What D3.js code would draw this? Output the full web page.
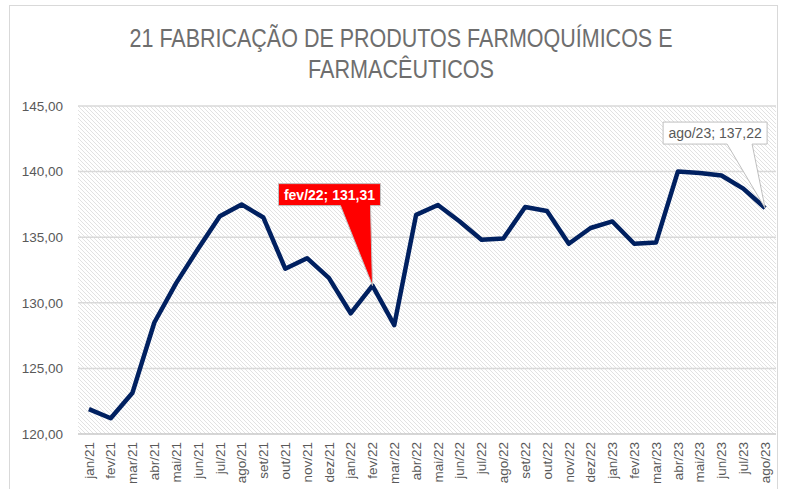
<!DOCTYPE html>
<html>
<head>
<meta charset="utf-8">
<script src="https://cdn.jsdelivr.net/npm/d3@7"></script>
<style>
  body { margin: 0; background: #fff; }
  text { font-family: "Liberation Sans", Arial, sans-serif; }
</style>
</head>
<body>
<div id="chart"></div>
<script>
// data
var months = ['jan/21', 'fev/21', 'mar/21', 'abr/21', 'mai/21', 'jun/21', 'jul/21', 'ago/21', 'set/21', 'out/21', 'nov/21', 'dez/21',
  'jan/22', 'fev/22', 'mar/22', 'abr/22', 'mai/22', 'jun/22', 'jul/22', 'ago/22', 'set/22', 'out/22', 'nov/22', 'dez/22',
  'jan/23', 'fev/23', 'mar/23', 'abr/23', 'mai/23', 'jun/23', 'jul/23', 'ago/23'];
var values = [121.9, 121.2, 123.15, 128.5, 131.5, 134.1, 136.6, 137.5, 136.5, 132.6, 133.4, 131.9,
  129.2, 131.31, 128.3, 136.7, 137.45, 136.2, 134.8, 134.9, 137.3, 137.0, 134.5, 135.7,
  136.2, 134.5, 134.6, 140.0, 139.9, 139.7, 138.7, 137.22];
var yTicks = [120, 125, 130, 135, 140, 145];
var titleLines = ['21 FABRICAÇÃO DE PRODUTOS FARMOQUÍMICOS E', 'FARMACÊUTICOS'];
var calloutMonths = ['fev/22', 'ago/23'];

var width = 787;
var height = 489;
var plot = { left: 78, right: 776, top: 106, bottom: 434 };

var fmt = function(v) { return d3.format('.2f')(v).replace('.', ','); };

var svg = d3.select('#chart')
  .append('svg')
  .attr('width', width)
  .attr('height', height);

// hatch pattern for the plot area
var pat = svg.append('defs').append('pattern')
  .attr('id', 'hatch')
  .attr('patternUnits', 'userSpaceOnUse')
  .attr('width', 4)
  .attr('height', 4);
pat.append('rect').attr('width', 4).attr('height', 4).attr('fill', '#fff');
pat.append('path')
  .attr('d', 'M-1,-1 L5,5 M-1,3 L1,5 M3,-1 L5,1')
  .attr('stroke', '#e2e2e2')
  .attr('stroke-width', 1);

// chart border
svg.append('rect')
  .attr('x', 9.5).attr('y', 5.5)
  .attr('width', 768).attr('height', 500)
  .attr('fill', '#fff')
  .attr('stroke', '#d9d9d9');

var x = d3.scaleBand()
  .domain(months)
  .range([plot.left, plot.right]);

var y = d3.scaleLinear()
  .domain([120, 145])
  .range([plot.bottom, plot.top]);

svg.append('rect')
  .attr('x', plot.left).attr('y', plot.top)
  .attr('width', plot.right - plot.left)
  .attr('height', plot.bottom - plot.top)
  .attr('fill', 'url(#hatch)');

// title
svg.append('g').selectAll('text')
  .data(titleLines)
  .enter().append('text')
  .attr('x', 401)
  .attr('y', function(d, i) { return 47 + i * 31; })
  .attr('text-anchor', 'middle')
  .attr('font-size', 25)
  .attr('fill', '#6e6e6e')
  .attr('textLength', function(d, i) { return i === 0 ? 543 : 186; })
  .attr('lengthAdjust', 'spacingAndGlyphs')
  .text(function(d) { return d; });

// gridlines
svg.append('g').selectAll('line')
  .data(yTicks.slice(1))
  .enter().append('line')
  .attr('x1', plot.left).attr('x2', plot.right)
  .attr('y1', function(d) { return y(d); })
  .attr('y2', function(d) { return y(d); })
  .attr('stroke', '#d9d9d9')
  .attr('stroke-width', 1.5);

svg.append('line')
  .attr('x1', plot.left).attr('x2', plot.right)
  .attr('y1', y(120)).attr('y2', y(120))
  .attr('stroke', '#c8c8c8')
  .attr('stroke-width', 1.5);

// y axis
var yAxis = svg.append('g')
  .attr('transform', 'translate(' + plot.left + ',0)')
  .call(d3.axisLeft(y).tickValues(yTicks).tickSize(0).tickPadding(15).tickFormat(fmt));
yAxis.select('.domain').remove();
yAxis.selectAll('text')
  .attr('font-size', 13.5)
  .attr('fill', '#595959')
  .style('font-family', '"Liberation Sans", Arial, sans-serif');

// x axis
var xAxis = svg.append('g')
  .attr('transform', 'translate(0,' + plot.bottom + ')')
  .call(d3.axisBottom(x).tickSize(0).tickPadding(0));
xAxis.select('.domain').remove();
xAxis.selectAll('text')
  .attr('font-size', 13.5)
  .attr('fill', '#595959')
  .style('font-family', '"Liberation Sans", Arial, sans-serif')
  .attr('text-anchor', 'end')
  .attr('transform', 'rotate(-90)')
  .attr('x', -8)
  .attr('y', 0)
  .attr('dy', '0.35em');

// the line
var cx = function(d, i) { return x(months[i]) + x.bandwidth() / 2; };
var line = d3.line()
  .x(cx)
  .y(function(d) { return y(d); });

svg.append('path')
  .datum(values)
  .attr('d', line)
  .attr('fill', 'none')
  .attr('stroke', '#002060')
  .attr('stroke-width', 4.5)
  .attr('stroke-linejoin', 'round');

// callouts: box offset from the point, wedge base relative to box centre
var styles = {
  'fev/22': { dx: -43, dy: -91, w: 102, h: 22, fill: '#ff0000', stroke: '#c0c0c0', text: '#fff', weight: 'bold', base: [11, 41] },
  'ago/23': { dx: -50, dy: -75, w: 104, h: 22, fill: '#fff', stroke: '#bfbfbf', text: '#595959', weight: 'normal', base: [12, 37] }
};

calloutMonths.forEach(function(m) {
  var i = months.indexOf(m);
  var px = cx(null, i), py = y(values[i]);
  var s = styles[m];
  var bx = px + s.dx - s.w / 2, by = py + s.dy - s.h / 2;
  var bottom = by + s.h;
  var shape = [
    [bx, by], [bx + s.w, by], [bx + s.w, bottom],
    [bx + s.w / 2 + s.base[1], bottom], [px, py], [bx + s.w / 2 + s.base[0], bottom],
    [bx, bottom]
  ];
  var g = svg.append('g');
  g.append('path')
    .attr('d', d3.line()(shape) + 'Z')
    .attr('fill', s.fill)
    .attr('stroke', s.stroke)
    .attr('stroke-width', 1);
  g.append('text')
    .attr('x', bx + s.w / 2)
    .attr('y', by + s.h / 2)
    .attr('dy', '0.36em')
    .attr('text-anchor', 'middle')
    .attr('font-size', 14)
    .attr('font-weight', s.weight)
    .attr('fill', s.text)
    .text(m + '; ' + fmt(values[i]));
});
</script>
</body>
</html>
